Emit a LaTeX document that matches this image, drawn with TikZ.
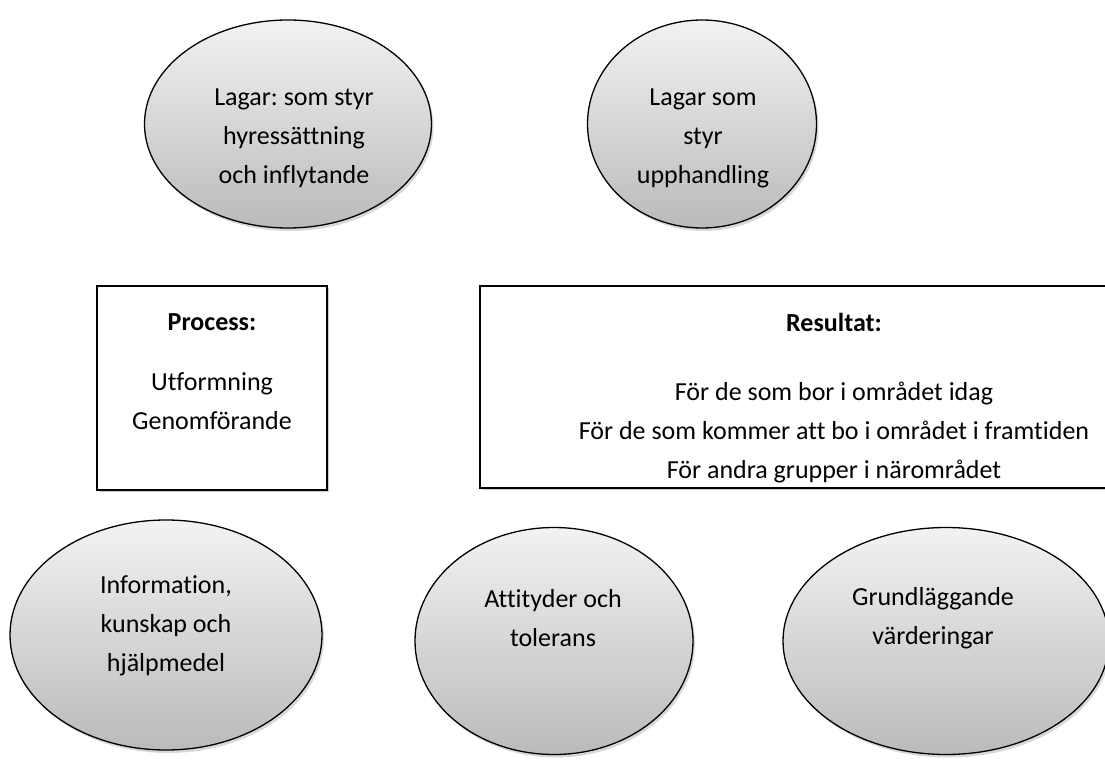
\documentclass[tikz,border=0pt]{standalone}
\usepackage{fontspec}
\setmainfont[RawFeature={-liga;-dlig;-clig}]{Carlito}
\frenchspacing
\usetikzlibrary{shapes.geometric,shadows}
\begin{document}
\begin{tikzpicture}[x=1pt,y=-1pt,
  oval/.style={ellipse, draw=black, line width=1.3pt, top color=black!5, bottom color=black!27,
    inner sep=0pt, drop shadow={shadow xshift=2pt,shadow yshift=-3pt,opacity=0.3}},
  frame/.style={rectangle, draw=black, line width=1.3pt, fill=white, inner sep=0pt,
    drop shadow={shadow xshift=1.5pt,shadow yshift=-1.5pt,opacity=0.4}},
  txt/.style={align=center, font=\fontsize{26}{39}\selectfont, inner sep=0pt},
  head/.style={txt, font=\fontsize{26}{39}\selectfont\bfseries}]
\useasboundingbox (0,0) rectangle (1105,762);
\clip (0,0) rectangle (1105,762);
\fill[white] (0,0) rectangle (1105,762);
% top ellipses
\node[oval, minimum width=287pt, minimum height=208pt] (e1) at (288,124) {};
\node[txt] (t1) at (294,138) {Lagar: som styr\\hyressättning\\och inflytande};
\node[oval, minimum width=229pt, minimum height=208pt] (e2) at (702,124) {};
\node[txt] (t2) at (703,138) {Lagar som\\styr\\upphandling};
% boxes
\node[frame, minimum width=230pt, minimum height=204pt] (proc) at (212,388) {};
\node[head] (proch) at (212,322) {Process:};
\node[txt] (procb) at (212,401) {Utformning\\Genomförande};
\node[frame, minimum width=708pt, minimum height=202pt] (res) at (834,387) {};
\node[head] (resh) at (834,322) {Resultat:};
\node[txt] (resb) at (834,433) {För de som bor i området idag\\För de som kommer att bo i området i framtiden\\För andra grupper i närområdet};
% bottom ellipses
\node[oval, minimum width=312pt, minimum height=230pt] (e3) at (166,635) {};
\node[txt] (t3) at (166,626) {Information,\\kunskap och\\hjälpmedel};
\node[oval, minimum width=278pt, minimum height=227pt] (e4) at (554,641) {};
\node[txt] (t4) at (553,618) {Attityder och\\tolerans};
\node[oval, minimum width=326pt, minimum height=227pt] (e5) at (946,641) {};
\node[txt] (t5) at (933,618) {Grundläggande\\värderingar};
\end{tikzpicture}
\end{document}
